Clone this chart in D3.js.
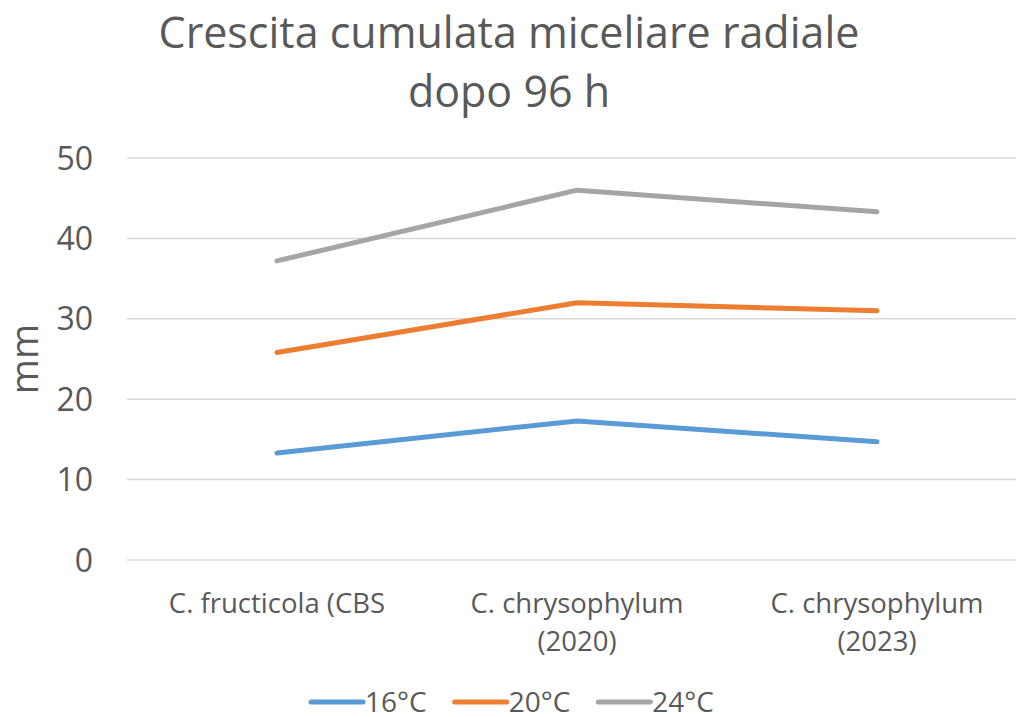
<!DOCTYPE html>
<html>
<head>
<meta charset="utf-8">
<script src="https://cdn.jsdelivr.net/npm/d3@7"></script>
<style>
  body { margin: 0; background: #fff; }
  text { font-family: "Open Sans", sans-serif; fill: #595959; }
</style>
</head>
<body>
<div id="chart"></div>
<script>
var categories = [["C. fructicola (CBS"], ["C. chrysophylum", "(2020)"], ["C. chrysophylum", "(2023)"]];
var seriesNames = ["16°C", "20°C", "24°C"];
var seriesColors = ["#5b9bd5", "#ed7d31", "#a5a5a5"];
var values16 = [13.3, 17.3, 14.7];
var values20 = [25.8, 32.0, 31.0];
var values24 = [37.2, 46.0, 43.3];
var yTicks = [0, 10, 20, 30, 40, 50];
var titleLines = ["Crescita cumulata miceliare radiale", "dopo 96 h"];

var width = 1016, height = 717;
var allSeries = [values16, values20, values24];

var svg = d3.select("#chart").append("svg")
    .attr("width", width)
    .attr("height", height);

var x = d3.scalePoint()
    .domain(d3.range(categories.length))
    .range([127, 1027])
    .padding(0.5);

var y = d3.scaleLinear()
    .domain([0, 50])
    .range([560, 158]);

// title
svg.append("g").selectAll("text")
    .data(titleLines)
    .enter().append("text")
    .attr("x", 509)
    .attr("y", function(d, i) { return 48 + i * 59; })
    .attr("text-anchor", "middle")
    .attr("font-size", "43px")
    .text(function(d) { return d; });

// gridlines
svg.append("g").selectAll("line")
    .data(yTicks)
    .enter().append("line")
    .attr("x1", 127).attr("x2", 1027)
    .attr("y1", function(d) { return y(d); })
    .attr("y2", function(d) { return y(d); })
    .attr("stroke", "#d9d9d9")
    .attr("stroke-width", 1.5);

// y tick labels
svg.append("g").selectAll("text")
    .data(yTicks)
    .enter().append("text")
    .attr("x", 93)
    .attr("y", function(d) { return y(d); })
    .attr("dy", "0.36em")
    .attr("text-anchor", "end")
    .attr("font-size", "32px")
    .text(function(d) { return d; });

// y axis title
svg.append("text")
    .attr("transform", "translate(38," + y(25) + ") rotate(-90)")
    .attr("text-anchor", "middle")
    .attr("font-size", "38px")
    .text("mm");

// category labels
var cat = svg.append("g").selectAll("text")
    .data(categories)
    .enter().append("text")
    .attr("text-anchor", "middle")
    .attr("font-size", "27.5px");

cat.selectAll("tspan")
    .data(function(d, i) { return d.map(function(t) { return { t: t, i: i }; }); })
    .enter().append("tspan")
    .attr("x", function(d) { return x(d.i); })
    .attr("y", function(d, j) { return 613 + j * 38; })
    .text(function(d) { return d.t; });

// lines
var line = d3.line()
    .x(function(d, i) { return x(i); })
    .y(function(d) { return y(d); });

svg.append("g").selectAll("path")
    .data(allSeries)
    .enter().append("path")
    .attr("d", line)
    .attr("fill", "none")
    .attr("stroke", function(d, i) { return seriesColors[i]; })
    .attr("stroke-width", 5)
    .attr("stroke-linecap", "round")
    .attr("stroke-linejoin", "round");

// legend
var lg = svg.append("g").attr("class", "legend");
var lx = 311;
seriesNames.forEach(function(name, i) {
    lg.append("line")
        .attr("x1", lx).attr("x2", lx + 52)
        .attr("y1", 702).attr("y2", 702)
        .attr("stroke", seriesColors[i])
        .attr("stroke-width", 5)
        .attr("stroke-linecap", "round");
    var t = lg.append("text")
        .attr("x", lx + 54)
        .attr("y", 712)
        .attr("font-size", "28px")
        .text(name);
    lx += 54 + t.node().getComputedTextLength() + 28;
});
</script>
</body>
</html>
